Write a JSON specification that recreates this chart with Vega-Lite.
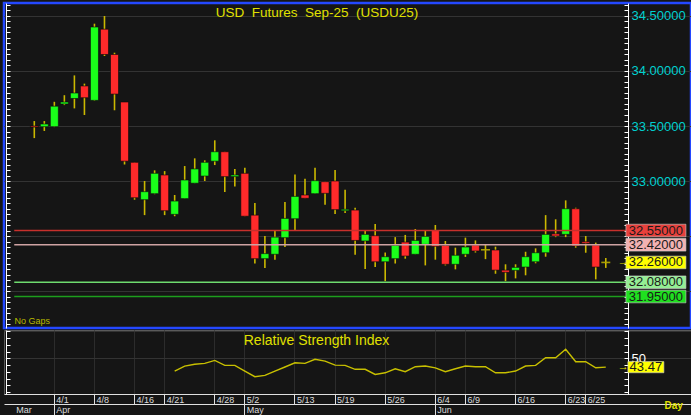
{
  "$schema": "https://vega.github.io/schema/vega-lite/v6.json",
  "background": "#151515",
  "padding": {"left": 2, "top": 1, "right": 0, "bottom": 0},
  "bounds": "flush",
  "spacing": 2,
  "datasets": {
    "candles": [
      {"d": "3/28", "o": 33.50, "h": 33.545, "l": 33.39, "c": 33.49},
      {"d": "3/31", "o": 33.494, "h": 33.545, "l": 33.455, "c": 33.518},
      {"d": "4/1", "o": 33.494, "h": 33.72, "l": 33.49, "c": 33.68},
      {"d": "4/2", "o": 33.70, "h": 33.78, "l": 33.69, "c": 33.718},
      {"d": "4/3", "o": 33.75, "h": 33.96, "l": 33.66, "c": 33.80},
      {"d": "4/7", "o": 33.864, "h": 33.885, "l": 33.60, "c": 33.757},
      {"d": "4/8", "o": 33.733, "h": 34.43, "l": 33.727, "c": 34.40},
      {"d": "4/9", "o": 34.38, "h": 34.50, "l": 34.136, "c": 34.15},
      {"d": "4/10", "o": 34.15, "h": 34.166, "l": 33.643, "c": 33.79},
      {"d": "4/15", "o": 33.718, "h": 33.718, "l": 33.15, "c": 33.18},
      {"d": "4/16", "o": 33.17, "h": 33.17, "l": 32.83, "c": 32.848},
      {"d": "4/17", "o": 32.83, "h": 33.0, "l": 32.69, "c": 32.903},
      {"d": "4/18", "o": 32.885, "h": 33.097, "l": 32.88, "c": 33.07},
      {"d": "4/21", "o": 33.055, "h": 33.09, "l": 32.69, "c": 32.73},
      {"d": "4/22", "o": 32.697, "h": 32.873, "l": 32.68, "c": 32.818, "rsi": 40.6},
      {"d": "4/23", "o": 32.84, "h": 33.136, "l": 32.84, "c": 33.009, "rsi": 44.3},
      {"d": "4/24", "o": 32.98, "h": 33.206, "l": 32.98, "c": 33.11, "rsi": 45.6},
      {"d": "4/25", "o": 33.045, "h": 33.188, "l": 33.0, "c": 33.17, "rsi": 46.3},
      {"d": "4/28", "o": 33.18, "h": 33.37, "l": 33.145, "c": 33.266, "rsi": 48.5},
      {"d": "4/29", "o": 33.266, "h": 33.266, "l": 32.90, "c": 33.04, "rsi": 44.8},
      {"d": "4/30", "o": 33.04, "h": 33.11, "l": 32.95, "c": 33.055, "rsi": 44.8},
      {"d": "5/2", "o": 33.07, "h": 33.12, "l": 32.68, "c": 32.68, "rsi": 40.6},
      {"d": "5/7", "o": 32.69, "h": 32.80, "l": 32.25, "c": 32.294, "rsi": 36.4},
      {"d": "5/8", "o": 32.294, "h": 32.50, "l": 32.21, "c": 32.34, "rsi": 37.4},
      {"d": "5/9", "o": 32.334, "h": 32.545, "l": 32.285, "c": 32.49, "rsi": 40.6},
      {"d": "5/12", "o": 32.485, "h": 32.81, "l": 32.40, "c": 32.66, "rsi": 43.6},
      {"d": "5/13", "o": 32.657, "h": 33.06, "l": 32.55, "c": 32.86, "rsi": 46.7},
      {"d": "5/14", "o": 32.873, "h": 33.02, "l": 32.843, "c": 32.843, "rsi": 46.3},
      {"d": "5/15", "o": 32.885, "h": 33.12, "l": 32.885, "c": 33.003, "rsi": 49.3},
      {"d": "5/16", "o": 32.994, "h": 32.994, "l": 32.785, "c": 32.888, "rsi": 48.0},
      {"d": "5/19", "o": 33.0, "h": 33.10, "l": 32.70, "c": 32.74, "rsi": 45.0},
      {"d": "5/20", "o": 32.73, "h": 32.92, "l": 32.71, "c": 32.743, "rsi": 44.8},
      {"d": "5/21", "o": 32.736, "h": 32.757, "l": 32.33, "c": 32.46, "rsi": 41.9},
      {"d": "5/22", "o": 32.455, "h": 32.55, "l": 32.20, "c": 32.515, "rsi": 41.9},
      {"d": "5/23", "o": 32.503, "h": 32.61, "l": 32.218, "c": 32.266, "rsi": 38.1},
      {"d": "5/26", "o": 32.266, "h": 32.35, "l": 32.09, "c": 32.312, "rsi": 39.3},
      {"d": "5/27", "o": 32.294, "h": 32.49, "l": 32.25, "c": 32.415, "rsi": 42.3},
      {"d": "5/28", "o": 32.445, "h": 32.51, "l": 32.294, "c": 32.318, "rsi": 40.1},
      {"d": "5/29", "o": 32.334, "h": 32.564, "l": 32.334, "c": 32.46, "rsi": 43.8},
      {"d": "5/30", "o": 32.424, "h": 32.55, "l": 32.233, "c": 32.497, "rsi": 44.3},
      {"d": "6/4", "o": 32.55, "h": 32.60, "l": 32.285, "c": 32.406, "rsi": 43.0},
      {"d": "6/5", "o": 32.415, "h": 32.455, "l": 32.233, "c": 32.243, "rsi": 40.1},
      {"d": "6/6", "o": 32.243, "h": 32.394, "l": 32.197, "c": 32.325, "rsi": 42.3},
      {"d": "6/9", "o": 32.334, "h": 32.485, "l": 32.31, "c": 32.40, "rsi": 44.3},
      {"d": "6/10", "o": 32.418, "h": 32.46, "l": 32.35, "c": 32.364, "rsi": 43.8},
      {"d": "6/11", "o": 32.375, "h": 32.424, "l": 32.29, "c": 32.375, "rsi": 43.8},
      {"d": "6/12", "o": 32.373, "h": 32.403, "l": 32.157, "c": 32.19, "rsi": 39.3},
      {"d": "6/13", "o": 32.19, "h": 32.243, "l": 32.09, "c": 32.17, "rsi": 39.3},
      {"d": "6/16", "o": 32.188, "h": 32.243, "l": 32.115, "c": 32.215, "rsi": 40.6},
      {"d": "6/17", "o": 32.218, "h": 32.357, "l": 32.143, "c": 32.312, "rsi": 44.3},
      {"d": "6/18", "o": 32.266, "h": 32.388, "l": 32.252, "c": 32.348, "rsi": 44.8},
      {"d": "6/19", "o": 32.348, "h": 32.69, "l": 32.312, "c": 32.515, "rsi": 50.4},
      {"d": "6/20", "o": 32.52, "h": 32.652, "l": 32.49, "c": 32.50, "rsi": 50.4},
      {"d": "6/23", "o": 32.515, "h": 32.824, "l": 32.49, "c": 32.748, "rsi": 56.7},
      {"d": "6/24", "o": 32.748, "h": 32.757, "l": 32.394, "c": 32.41, "rsi": 47.5},
      {"d": "6/25", "o": 32.448, "h": 32.50, "l": 32.348, "c": 32.433, "rsi": 47.5},
      {"d": "6/26", "o": 32.418, "h": 32.44, "l": 32.106, "c": 32.218, "rsi": 43.0},
      {"d": "6/27", "o": 32.26, "h": 32.30, "l": 32.21, "c": 32.26, "rsi": 43.47}
    ],
    "levels": [
      {"level": 32.55, "type": "resistance"},
      {"level": 32.42, "type": "resistance"},
      {"level": 32.26, "type": "last"},
      {"level": 32.08, "type": "support"},
      {"level": 31.95, "type": "support"}
    ]
  },
  "vconcat": [
    {
      "width": 687,
      "height": 325,
      "view": {"stroke": "#2448ff", "strokeWidth": 2.5},
      "resolve": {"scale": {"color": "independent"}, "axis": {"y": "independent"}},
      "layer": [
        {
          "data": {"name": "candles"},
          "mark": {"type": "rule", "color": "#cbb800", "strokeWidth": 1.6},
          "encoding": {
            "x": {"field": "d", "type": "ordinal",
              "scale": {"type": "band", "paddingInner": 0, "paddingOuter": 0.261, "align": 1, "domain": ["l1","l2","3/28","3/31","4/1","4/2","4/3","4/7","4/8","4/9","4/10","4/15","4/16","4/17","4/18","4/21","4/22","4/23","4/24","4/25","4/28","4/29","4/30","5/2","5/7","5/8","5/9","5/12","5/13","5/14","5/15","5/16","5/19","5/20","5/21","5/22","5/23","5/26","5/27","5/28","5/29","5/30","6/4","6/5","6/6","6/9","6/10","6/11","6/12","6/13","6/16","6/17","6/18","6/19","6/20","6/23","6/24","6/25","6/26","6/27","r1","r2","r3","r4","r5","r6","r7","r8"]},
              "axis": {"values": ["4/1","4/8","4/16","4/21","4/28","5/2","5/13","5/19","5/26","6/4","6/9","6/16","6/23","6/25"], "grid": true, "gridColor": "#2c2c2c", "ticks": false, "labels": false, "domain": false, "title": null}},
            "y": {"field": "l", "type": "quantitative", "scale": {"domain": [31.664, 34.618], "nice": false, "zero": false},
              "axis": {"orient": "right", "offset": -63, "values": [33, 33.5, 34, 34.5], "format": ".5f", "labelColor": "#00d0d0", "labelFontSize": 13, "labelPadding": 3, "labelBaseline": "middle", "labelFlush": false, "labelOverlap": false, "ticks": false, "domain": true, "domainColor": "#ffffff", "domainWidth": 1, "grid": false,
                "title": "USD\u00a0 Futures\u00a0 Sep-25\u00a0 (USDU25)", "titleX": -311.5, "titleY": 16, "titleAngle": 0, "titleAlign": "center", "titleBaseline": "bottom", "titleColor": "#e0e000", "titleFontSize": 13.5, "titleFontWeight": "normal"}},
            "y2": {"field": "h"}
          }
        },
        {
          "data": {"name": "candles"},
          "mark": {"type": "bar", "width": 8, "stroke": "#0a0a0a", "strokeWidth": 0.6},
          "encoding": {
            "x": {"field": "d", "type": "ordinal", "axis": null},
            "y": {"field": "o", "type": "quantitative",
              "axis": {"orient": "right", "offset": -63, "tickCount": 58, "tickSize": -4, "tickColor": "#ffffff", "labels": false, "domain": false, "grid": false, "title": null}},
            "y2": {"field": "c"},
            "color": {"condition": {"test": "datum.c > datum.o", "value": "#1aff1a"}, "value": "#ff2a2a"}
          }
        },
        {
          "data": {"name": "candles"},
          "transform": [{"filter": "datum.o == datum.c"}],
          "mark": {"type": "tick", "thickness": 1.6, "size": 9, "color": "#e8d800"},
          "encoding": {
            "x": {"field": "d", "type": "ordinal", "axis": null},
            "y": {"field": "c", "type": "quantitative",
              "axis": {"orient": "left", "offset": -2, "tickCount": 58, "tickSize": -4, "tickColor": "#ffffff", "labels": false, "domain": true, "domainColor": "#ffffff", "grid": false,
                "title": "No Gaps", "titleX": 8, "titleY": 322, "titleAngle": 0, "titleAlign": "left", "titleBaseline": "bottom", "titleColor": "#b8b800", "titleFontSize": 9, "titleFontWeight": "normal"}}
          }
        },
        {
          "data": {"name": "levels"},
          "transform": [{"filter": "datum.type != 'last'"}],
          "mark": {"type": "rule", "strokeWidth": 1.6},
          "encoding": {
            "x": {"datum": "l1", "type": "ordinal", "axis": null},
            "x2": {"datum": "r2"},
            "y": {"field": "level", "type": "quantitative",
              "axis": {"orient": "left", "values": [32, 32.5, 33, 33.5, 34, 34.5], "grid": true, "gridColor": "#333333", "ticks": false, "labels": false, "domain": false, "title": null}},
            "color": {"field": "level", "type": "nominal", "legend": null,
              "scale": {"domain": [32.55, 32.42, 32.08, 31.95], "range": ["#c8302c", "#cfa3a3", "#6fdc6f", "#1d9e1d"]}}
          }
        },
        {
          "data": {"name": "levels"},
          "mark": {"type": "point", "shape": "M-1,-0.21H1V0.21H-1Z", "size": 3600, "filled": true, "opacity": 1, "stroke": "#cfcfcf", "strokeWidth": 0.6},
          "encoding": {
            "x": {"datum": "r5", "type": "ordinal", "axis": null},
            "y": {"field": "level", "type": "quantitative", "axis": null},
            "color": {"field": "level", "type": "nominal", "legend": null,
              "scale": {"domain": [32.55, 32.42, 32.26, 32.08, 31.95], "range": ["#e8403c", "#f2b2b2", "#ffff00", "#94ee94", "#1fe01f"]}}
          }
        },
        {
          "data": {"name": "levels"},
          "mark": {"type": "text", "align": "center", "baseline": "middle", "fontSize": 13, "color": "#1a1a1a", "font": "Liberation Sans"},
          "encoding": {
            "x": {"datum": "r5", "type": "ordinal", "axis": null},
            "y": {"field": "level", "type": "quantitative", "axis": null},
            "text": {"field": "level", "type": "quantitative", "format": ".5f"}
          }
        },
        {
          "data": {"name": "candles"},
          "transform": [{"filter": "datum.d == '6/27'"}],
          "mark": {"type": "text", "text": "→", "align": "left", "baseline": "middle", "dx": 12, "fontSize": 11, "color": "#e8e000"},
          "encoding": {
            "x": {"field": "d", "type": "ordinal", "axis": null},
            "y": {"field": "c", "type": "quantitative", "axis": null}
          }
        }
      ]
    },
    {
      "width": 687,
      "height": 64,
      "view": {"stroke": "#5a5a5a", "strokeWidth": 1},
      "resolve": {"axis": {"x": "independent", "y": "independent"}},
      "layer": [
        {
          "data": {"name": "candles"},
          "mark": {"type": "line", "color": "#c8c000", "strokeWidth": 1.4},
          "encoding": {
            "x": {"field": "d", "type": "ordinal",
              "scale": {"type": "band", "paddingInner": 0, "paddingOuter": 0.261, "align": 1, "domain": ["l1","l2","3/28","3/31","4/1","4/2","4/3","4/7","4/8","4/9","4/10","4/15","4/16","4/17","4/18","4/21","4/22","4/23","4/24","4/25","4/28","4/29","4/30","5/2","5/7","5/8","5/9","5/12","5/13","5/14","5/15","5/16","5/19","5/20","5/21","5/22","5/23","5/26","5/27","5/28","5/29","5/30","6/4","6/5","6/6","6/9","6/10","6/11","6/12","6/13","6/16","6/17","6/18","6/19","6/20","6/23","6/24","6/25","6/26","6/27","r1","r2","r3","r4","r5","r6","r7","r8"]},
              "axis": {"values": ["4/1","4/8","4/16","4/21","4/28","5/2","5/13","5/19","5/26","6/4","6/9","6/16","6/23","6/25"], "orient": "bottom", "grid": true, "gridColor": "#2c2c2c", "tickSize": 10, "tickColor": "#e0e0e0", "domain": true, "domainColor": "#e0e0e0", "labelAlign": "left", "labelBaseline": "top", "labelPadding": -9, "labelOffset": 2, "labelColor": "#dcdcdc", "labelFontSize": 9, "labelOverlap": false, "labelFlush": false, "labelBound": false, "labelAngle": 0, "title": null}},
            "y": {"field": "rsi", "type": "quantitative", "scale": {"domain": [23.6, 71.0], "nice": false, "zero": false},
              "axis": {"orient": "right", "offset": -63, "values": [50], "labelColor": "#ffffff", "labelFontSize": 13, "labelPadding": 3, "labelBaseline": "middle", "labelFlush": false, "ticks": false, "domain": true, "domainColor": "#ffffff", "grid": false,
                "title": "Relative Strength Index", "titleX": -312, "titleY": 17, "titleAngle": 0, "titleAlign": "center", "titleBaseline": "bottom", "titleColor": "#e0e000", "titleFontSize": 14, "titleFontWeight": "normal"}}
          }
        },
        {
          "data": {"name": "candles"},
          "transform": [{"filter": "datum.d == '6/27'"}],
          "mark": {"type": "point", "shape": "M-1,-0.31H1V0.31H-1Z", "size": 1296, "filled": true, "opacity": 1, "color": "#ffff00", "stroke": "#cfcfcf", "strokeWidth": 0.6},
          "encoding": {
            "x": {"datum": "r4", "type": "ordinal", "axis": null},
            "y": {"field": "rsi", "type": "quantitative",
              "axis": {"orient": "right", "offset": -63, "tickCount": 10, "tickSize": -4, "tickColor": "#ffffff", "labels": false, "domain": false, "grid": false, "title": null}}
          }
        },
        {
          "data": {"name": "candles"},
          "transform": [{"filter": "datum.d == '6/27'"}],
          "mark": {"type": "text", "align": "center", "baseline": "middle", "fontSize": 13, "color": "#1a1a1a", "font": "Liberation Sans"},
          "encoding": {
            "x": {"datum": "r4", "type": "ordinal", "axis": null},
            "y": {"field": "rsi", "type": "quantitative",
              "axis": {"orient": "left", "offset": -2, "tickCount": 10, "tickSize": -4, "tickColor": "#ffffff", "labels": false, "domain": true, "domainColor": "#ffffff", "grid": false, "title": null}},
            "text": {"field": "rsi", "type": "quantitative", "format": ".2f"}
          }
        },
        {
          "data": {"name": "candles"},
          "transform": [{"filter": "datum.d == '6/27'"}],
          "mark": {"type": "text", "text": "→", "align": "left", "baseline": "middle", "dx": 12, "fontSize": 11, "color": "#e8e000"},
          "encoding": {
            "x": {"field": "d", "type": "ordinal",
              "axis": {"values": ["l1","4/1","5/2","6/4"], "orient": "bottom", "offset": 10, "tickSize": 11, "tickColor": "#e0e0e0",
                "tickOpacity": {"condition": {"test": "datum.value === 'l1'", "value": 0}, "value": 1},
                "domain": true, "domainColor": "#e0e0e0", "grid": false,
                "labelExpr": "({'l1': 'Mar', '4/1': 'Apr', '5/2': 'May', '6/4': 'Jun'})[datum.value]",
                "labelAlign": "left", "labelBaseline": "top", "labelPadding": -10, "labelOffset": 2, "labelColor": "#dcdcdc", "labelFontSize": 9, "labelOverlap": false, "labelFlush": false, "labelBound": false, "labelAngle": 0,
                "title": "Day", "titleX": 660, "titleY": 1, "titleAlign": "left", "titleAnchor": "start", "titleBaseline": "middle", "titleColor": "#e0e000", "titleFontSize": 10, "titleFontWeight": "bold"}},
            "y": {"field": "rsi", "type": "quantitative",
              "axis": {"orient": "left", "values": [50, 70], "grid": true, "gridColor": "#333333", "ticks": false, "labels": false, "domain": false, "title": null}}
          }
        }
      ]
    }
  ],
  "config": {
    "font": "Liberation Sans",
    "axis": {"labelFont": "Liberation Sans", "titleFont": "Liberation Sans"},
    "text": {"font": "Liberation Sans"}
  }
}
